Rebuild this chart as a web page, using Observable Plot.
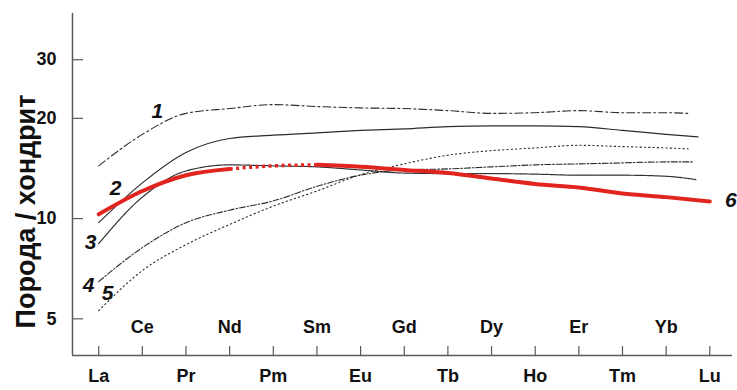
<!DOCTYPE html>
<html><head><meta charset="utf-8">
<script src="https://cdn.jsdelivr.net/npm/d3@7"></script>
<script src="https://cdn.jsdelivr.net/npm/@observablehq/plot@0.6"></script>
<style>
body{margin:0;background:#fff}
svg{display:block;font-family:"Liberation Sans",Arial,sans-serif}
</style>
</head><body><div id="chart"></div>
<script>
const elements = ["La","Ce","Pr","Nd","Pm","Sm","Eu","Gd","Tb","Dy","Ho","Er","Tm","Yb","Lu"];
// values read at each element (last value = where the curve stops)
const series1 = [14.4, 17.9, 20.7, 21.4, 22.0, 21.7, 21.5, 21.4, 21.1, 20.7, 20.8, 21.1, 20.8, 20.8, 20.7];
const series2 = [9.72, 12.8, 15.8, 17.4, 17.8, 18.1, 18.4, 18.6, 18.9, 19.0, 19.0, 18.9, 18.4, 17.9, 17.6];
const series3 = [8.41, 11.6, 13.9, 14.5, 14.4, 14.3, 14.0, 13.7, 13.65, 13.65, 13.6, 13.5, 13.5, 13.4, 13.1];
const series4 = [6.47, 8.18, 9.72, 10.6, 11.3, 12.5, 13.5, 14.0, 14.1, 14.3, 14.5, 14.6, 14.7, 14.8, 14.8];
const series5 = [5.29, 6.98, 8.35, 9.6, 10.9, 12.1, 13.55, 14.6, 15.5, 16.0, 16.3, 16.6, 16.45, 16.3, 16.2];
const series6 = [10.3, 12.1, 13.5, 14.1, 14.4, 14.5, 14.3, 14.0, 13.7, 13.2, 12.7, 12.4, 11.9, 11.6, 11.25];
// element position (index units) where each curve stops
const curveStops = [13.5, 13.73, 13.68, 13.63, 13.5, 14];
const seriesNames = ["1","2","3","4","5","6"];
const yTicks = [5, 10, 20, 30];
const yLabel = "Порода / хондрит";
const xDomain = [-0.6, 14.52];
const yDomain = [3.88, 41.3];

const allSeries = [series1, series2, series3, series4, series5, series6];
const pts = allSeries.map((s, k) => s.map((v, i) => ({x: i === s.length - 1 ? curveStops[k] : i, y: v})));
const red = pts[5];
const redA = red.slice(0, 4), redB = red.slice(3, 6), redC = red.slice(5);

const black = "#2b2b2b";
const redColor = "#e2241f";
const axisColor = "#5a5a5a";
const curve = "monotone-x";
const numStyle = {fontSize: 21, fontWeight: "bold", fontStyle: "italic", fill: "#111"};

const chart = Plot.plot({
  width: 737, height: 390,
  marginLeft: 72, marginRight: 5, marginTop: 13, marginBottom: 35,
  x: {type: "linear", domain: xDomain},
  y: {type: "log", domain: yDomain},
  style: {fontFamily: "'Liberation Sans', Arial, sans-serif", fontSize: "18px", fontWeight: "bold", color: "#111", background: "#fff"},
  marks: [
    // axis lines
    Plot.ruleX([xDomain[0]], {stroke: axisColor, strokeWidth: 1.5}),
    Plot.ruleY([yDomain[0]], {stroke: axisColor, strokeWidth: 1.5}),
    // y ticks (inward) and labels
    Plot.axisY({ticks: yTicks, tickSize: 11, dx: 11, fill: "none", stroke: axisColor, strokeWidth: 1.2, label: null}),
    Plot.axisY({ticks: yTicks, tickSize: 0, tickPadding: 16, stroke: "none", fill: "#111", label: null, fontSize: 18, fontWeight: "bold"}),
    // x ticks (inward)
    Plot.axisX({ticks: d3.range(elements.length), tickSize: 9, dy: -9, fill: "none", stroke: axisColor, strokeWidth: 1.2, label: null}),
    // x labels in two rows
    Plot.text(d3.range(1, elements.length, 2), {x: d => d, text: d => elements[d], frameAnchor: "bottom", dy: -23, fontSize: 18, fontWeight: "bold", fill: "#111"}),
    Plot.text(d3.range(0, elements.length, 2), {x: d => d, text: d => elements[d], frameAnchor: "bottom", dy: 26, fontSize: 18, fontWeight: "bold", fill: "#111"}),
    // y title
    Plot.text([yLabel], {frameAnchor: "left", text: d => d, textAnchor: "middle", rotate: -90, dx: -46, dy: 27, fontSize: 27, fontWeight: "bold", fill: "#111"}),
    // black curves
    Plot.line(pts[0], {x: "x", y: "y", curve, stroke: black, strokeWidth: 1.1, strokeDasharray: "8,3,2,3"}),
    Plot.line(pts[1], {x: "x", y: "y", curve, stroke: black, strokeWidth: 1.2}),
    Plot.line(pts[2], {x: "x", y: "y", curve, stroke: black, strokeWidth: 1.2, strokeDasharray: "1.5,1"}),
    Plot.line(pts[3], {x: "x", y: "y", curve, stroke: black, strokeWidth: 1.1, strokeDasharray: "6,2,1.5,2"}),
    Plot.line(pts[4], {x: "x", y: "y", curve, stroke: black, strokeWidth: 1.1, strokeDasharray: "1.3,3"}),
    // red curve 6
    Plot.line(redA, {x: "x", y: "y", curve, stroke: redColor, strokeWidth: 4}),
    Plot.line(redB, {x: "x", y: "y", curve, stroke: redColor, strokeWidth: 3.5, strokeDasharray: "3,3.5", strokeLinecap: "butt"}),
    Plot.line(redC, {x: "x", y: "y", curve, stroke: redColor, strokeWidth: 4}),
    // curve numbers
    Plot.text([pts[0][1]], {x: "x", y: "y", text: () => seriesNames[0], dx: 15, dy: -23, ...numStyle}),
    Plot.text([pts[1][0]], {x: "x", y: "y", text: () => seriesNames[1], dx: 17, dy: -34, ...numStyle}),
    Plot.text([pts[2][0]], {x: "x", y: "y", text: () => seriesNames[2], dx: -8, dy: -1, ...numStyle}),
    Plot.text([pts[3][0]], {x: "x", y: "y", text: () => seriesNames[3], dx: -10, dy: 4, ...numStyle}),
    Plot.text([pts[4][0]], {x: "x", y: "y", text: () => seriesNames[4], dx: 9, dy: -17, ...numStyle}),
    Plot.text([red[red.length - 1]], {x: "x", y: "y", text: () => seriesNames[5], dx: 21, dy: -1, ...numStyle})
  ]
});
document.getElementById("chart").appendChild(chart);
</script>
</body></html>
